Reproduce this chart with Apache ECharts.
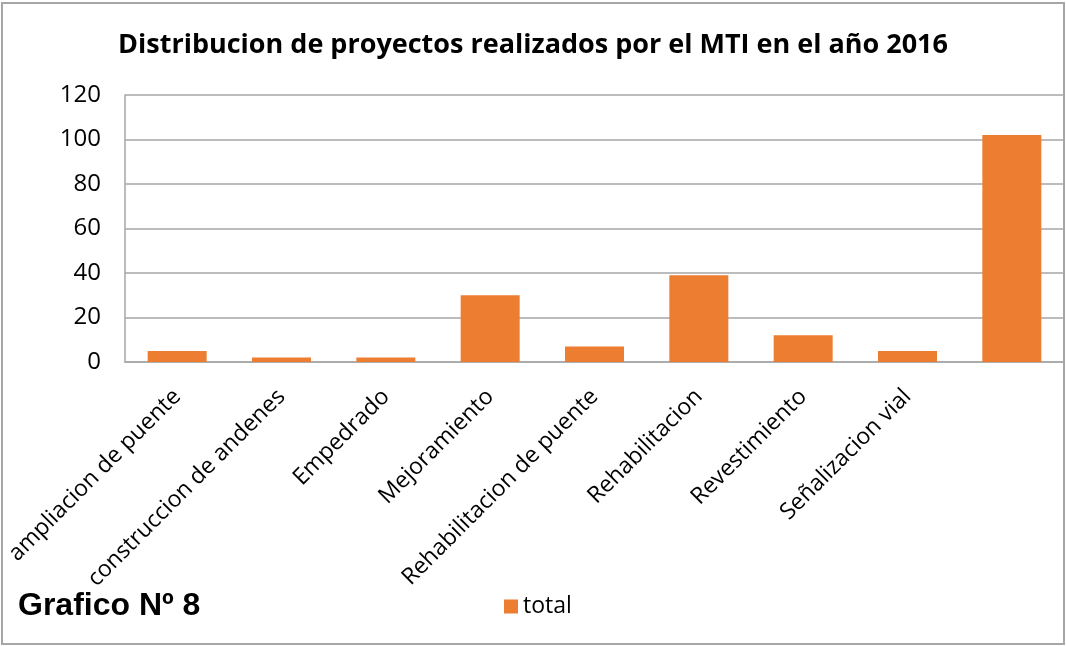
<!DOCTYPE html>
<html>
<head>
<meta charset="utf-8">
<script src="https://cdn.jsdelivr.net/npm/echarts@6/dist/echarts.min.js"></script>
<style>
  html, body { margin: 0; padding: 0; background: #fff; }
  #chart { width: 1066px; height: 646px; }
</style>
</head>
<body>
<div id="chart"></div>
<script>
const categories = [
  'ampliacion de puente',
  'construccion de andenes',
  'Empedrado',
  'Mejoramiento',
  'Rehabilitacion de puente',
  'Rehabilitacion',
  'Revestimiento',
  'Señalizacion vial',
  ''
];
const totals = [5, 2, 2, 30, 7, 39, 12, 5, 102];
const yTicks = [0, 20, 40, 60, 80, 100, 120];

const chart = echarts.init(document.getElementById('chart'));

const option = {
  backgroundColor: '#fff',
  animation: false,
  title: {
    text: 'Distribucion de proyectos realizados por el MTI en el año 2016',
    left: 'center',
    top: 27,
    textStyle: {
      fontFamily: 'Open Sans',
      fontWeight: 'bold',
      fontSize: 27,
      color: '#000'
    }
  },
  legend: {
    data: ['total'],
    left: 499,
    top: 590,
    itemWidth: 14,
    itemHeight: 14,
    itemGap: 6,
    icon: 'rect',
    textStyle: { fontFamily: 'Open Sans', fontSize: 23, color: '#000' }
  },
  grid: {
    left: 125,
    right: 2,
    top: 95,
    bottom: 284,
    containLabel: false
  },
  xAxis: {
    type: 'category',
    data: categories,
    axisLine: { lineStyle: { color: '#a6a6a6', width: 1.5 } },
    axisTick: { show: false },
    axisLabel: {
      rotate: 45,
      interval: 0,
      margin: 31,
      color: '#000',
      fontFamily: 'Open Sans',
      fontSize: 23
    }
  },
  yAxis: {
    type: 'value',
    min: yTicks[0],
    max: yTicks[yTicks.length - 1],
    interval: 20,
    axisLine: { show: true, lineStyle: { color: '#a6a6a6', width: 1.5 } },
    axisTick: { show: false },
    splitLine: { lineStyle: { color: '#a6a6a6', width: 1.5 } },
    axisLabel: {
      margin: 24,
      color: '#000',
      fontFamily: 'Open Sans',
      fontSize: 24
    }
  },
  series: [{
    name: 'total',
    type: 'bar',
    data: totals,
    barWidth: 59,
    itemStyle: { color: '#ED7D31' }
  }],
  graphic: [
    {
      type: 'rect',
      shape: { x: 2, y: 3, width: 1062, height: 641 },
      style: { fill: 'none', stroke: '#a6a6a6', lineWidth: 2 },
      z: 100
    },
    {
      type: 'text',
      left: 18,
      top: 590,
      style: {
        text: 'Grafico Nº 8',
        font: 'bold 32px "Liberation Sans", Arial, sans-serif',
        fill: '#000'
      }
    }
  ]
};

chart.setOption(option);
</script>
</body>
</html>
